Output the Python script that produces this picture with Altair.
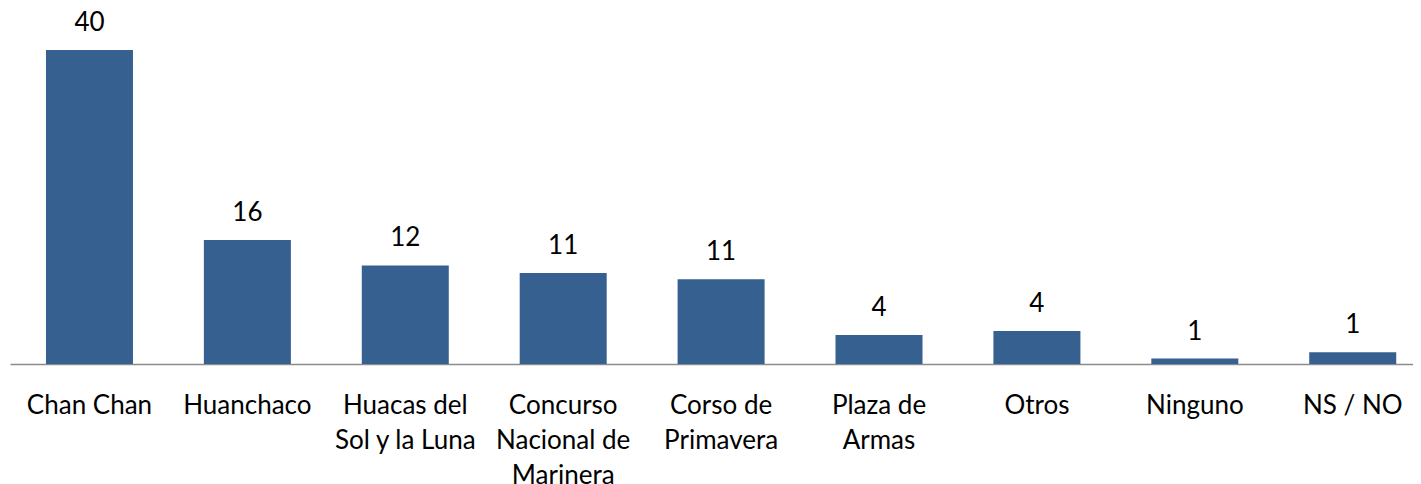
import altair as alt
import pandas as pd

categories = [
    "Chan Chan",
    "Huanchaco",
    "Huacas del\nSol y la Luna",
    "Concurso\nNacional de\nMarinera",
    "Corso de\nPrimavera",
    "Plaza de\nArmas",
    "Otros",
    "Ninguno",
    "NS / NO",
]
bar_values = [40.0, 15.8, 12.55, 11.6, 10.8, 3.7, 4.2, 0.7, 1.5]
value_labels = [40, 16, 12, 11, 11, 4, 4, 1, 1]

df = pd.DataFrame({"cat": categories, "value": bar_values, "label": value_labels})

FONT = "Lato"
BLUE = "#36608F"

x_enc = alt.X(
    "cat:N",
    sort=None,
    title=None,
    scale=alt.Scale(paddingInner=0.449, paddingOuter=0.167, align=0.682),
    axis=alt.Axis(
        labelExpr="split(datum.label, '\\n')",
        labelAngle=0,
        labelFont=FONT,
        labelFontSize=26,
        labelColor="#000000",
        labelLineHeight=35,
        labelPadding=28,
        labelBaseline="top",
        ticks=False,
        domainColor="#8C8C8C",
        domainWidth=1.5,
        grid=False,
        labelLimit=300,
    ),
)
y_enc = alt.Y(
    "value:Q",
    title=None,
    scale=alt.Scale(domain=[0, 45.1], nice=False, zero=True),
    axis=None,
)

bars = alt.Chart(df).mark_bar(color=BLUE).encode(x=x_enc, y=y_enc)
text = alt.Chart(df).mark_text(
    font=FONT, fontSize=26, color="#000000", baseline="alphabetic", dy=-19
).encode(
    x=alt.X("cat:N", sort=None),
    y=alt.Y("value:Q", axis=None),
    text="label:Q",
)

chart = (
    alt.layer(bars, text)
    .properties(width=1403, height=354, padding={"left": 2, "top": 2, "right": 0, "bottom": 0})
    .configure(background="#FFFFFF", view=alt.ViewConfig(stroke="transparent", strokeWidth=0))
)

chart.save("out.html", embed_options={"renderer": "svg", "actions": False})
